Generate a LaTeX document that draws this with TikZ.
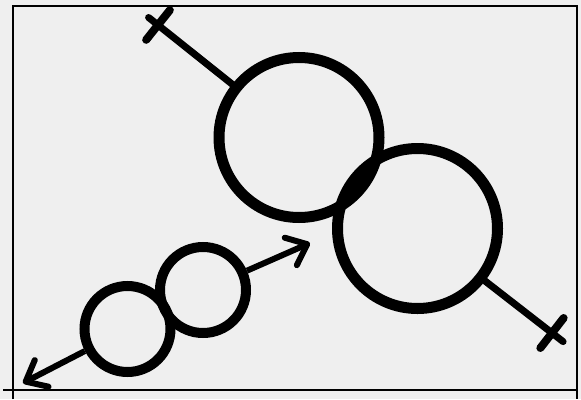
\documentclass[tikz,border=0pt]{standalone}
\usepackage{tikz}
\usetikzlibrary{positioning,arrows.meta,calc}
\definecolor{paper}{RGB}{239,239,239}
\tikzset{
  bigring/.style={draw, circle, line width=11pt, minimum size=160pt, inner sep=0pt},
  smallring/.style={draw, circle, line width=10pt, minimum size=86pt, inner sep=0pt},
  stemline/.style={line width=7pt, line cap=round},
  crossbar/.style={line width=8pt, line cap=round},
  barbarrow/.style={-{Straight Barb[length=18pt, width=30pt, line cap=round, line join=round]}, line width=6pt},
  framebox/.style={line width=2pt}
}
\begin{document}
\begin{tikzpicture}[x=1pt, y=-1pt]
  \fill[paper] (0,0) rectangle (581,399);
  \useasboundingbox (0,0) rectangle (581,399);
  \draw[framebox] (3,390) -- (577,390);
  \draw[framebox] (13,399) -- (13,6) -- (577,6) -- (577,399);
  \node[bigring] (ringA) at (299,137.5) {};
  \node[bigring] (ringB) at (417.5,228.5) {};
  \begin{scope}
    \clip (ringA.center) circle[radius=84pt];
    \fill (ringB.center) circle[radius=84pt];
  \end{scope}
  \coordinate (endA) at (158,25);
  \coordinate (tipA) at (148.6,17.5);
  \coordinate (endB) at (552,333);
  \coordinate (tipB) at (563.1,341.6);
  \draw[stemline] (tipA) -- (ringA);
  \draw[stemline] (tipB) -- (ringB);
  \draw[crossbar] ($(endA)!19pt!90:(ringA.center)$) -- ($(endA)!19pt!-90:(ringA.center)$);
  \draw[crossbar] ($(endB)!19pt!90:(ringB.center)$) -- ($(endB)!19pt!-90:(ringB.center)$);
  \node[smallring] (loopA) at (127.5,329) {};
  \node[smallring] (loopB) at (203,290) {};
  \coordinate (headA) at (23,383);
  \coordinate (headB) at (310,243);
  \draw[barbarrow] (loopB) -- (headB);
  \draw[barbarrow] (loopA) -- (headA);
\end{tikzpicture}
\end{document}
